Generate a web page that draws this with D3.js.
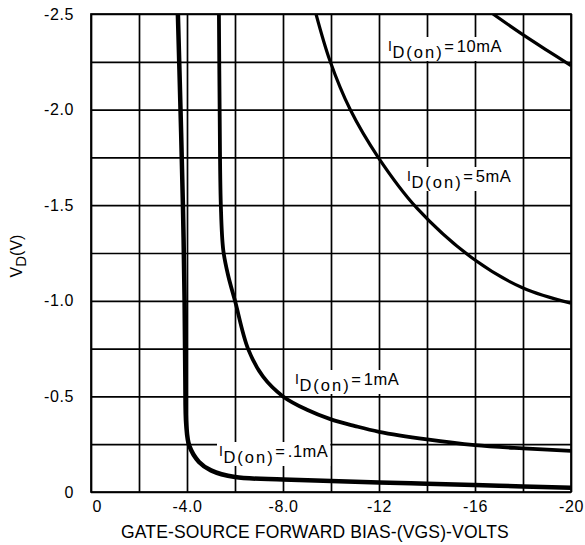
<!DOCTYPE html>
<html>
<head>
<meta charset="utf-8">
<script src="https://cdn.jsdelivr.net/npm/d3@7/dist/d3.min.js"></script>
<style>
  html, body { margin: 0; padding: 0; background: #fff; }
  svg { display: block; font-family: "Liberation Sans", Arial, Helvetica, sans-serif; }
</style>
</head>
<body>
<svg id="chart" width="585" height="545"></svg>
<script>
// Gate-source forward bias (V) vs drain voltage V_D (V), one curve per I_D(on)
const gridX = [0, -2, -4, -6, -8, -10, -12, -14, -16, -18, -20];
const gridY = [0, -0.25, -0.5, -0.75, -1.0, -1.25, -1.5, -1.75, -2.0, -2.25, -2.5];
const xTickValues = [0, -4, -8, -12, -16, -20];
const xTickLabels = ["0", "-4.0", "-8.0", "-12", "-16", "-20"];
const yTickValues = [0, -0.5, -1.0, -1.5, -2.0, -2.5];
const yTickLabels = ["0", "-0.5", "-1.0", "-1.5", "-2.0", "-2.5"];

// I_D(on) = .1mA
const vgs01 = [-3.62, -3.73, -3.83, -3.9, -3.93, -3.97, -4.1, -4.5, -5, -6, -8, -10, -12, -14, -16, -18, -20];
const vd01  = [-2.5, -2.0, -1.5, -1.0, -0.6, -0.35, -0.24, -0.157, -0.113, -0.078, -0.066, -0.058, -0.05, -0.043, -0.036, -0.029, -0.022];
// I_D(on) = 1mA
const vgs1 = [-5.33, -5.36, -5.41, -5.51, -5.71, -6.0, -6.54, -7.17, -8, -9, -10, -11, -12, -14, -16, -18, -20];
const vd1  = [-2.5, -2.0, -1.5, -1.266, -1.135, -1.0, -0.75, -0.603, -0.5, -0.43, -0.38, -0.345, -0.315, -0.275, -0.245, -0.228, -0.215];
// I_D(on) = 5mA
const vgs5 = [-9.375, -9.96, -10.79, -11.96, -13.58, -16, -18, -20];
const vd5  = [-2.5, -2.254, -2.003, -1.752, -1.485, -1.213, -1.067, -0.988];
// I_D(on) = 10mA
const vgs10 = [-16.75, -17.9, -19, -20];
const vd10  = [-2.5, -2.4, -2.31, -2.23];

const curveNames = [".1mA", "1mA", "5mA", "10mA"];

const svg = d3.select("#chart");
const x = d3.scaleLinear().domain([0, -20]).range([91, 571]);
const y = d3.scaleLinear().domain([0, -2.5]).range([492, 14]);
const [x0, x1] = x.range();
const [y0, y1] = y.range();

// grid lines drawn as axis ticks spanning the plot
const gx = svg.append("g").attr("transform", `translate(0,${y0})`)
  .call(d3.axisBottom(x).tickValues(gridX).tickSize(-(y0 - y1)).tickFormat(""));
const gy = svg.append("g").attr("transform", `translate(${x0},0)`)
  .call(d3.axisLeft(y).tickValues(gridY).tickSize(-(x1 - x0)).tickFormat(""));
[gx, gy].forEach(g => {
  g.select(".domain").remove();
  g.selectAll(".tick line").attr("stroke", "#000").attr("stroke-width", 1.7);
});

// frame
svg.append("rect").attr("x", x0).attr("y", y1).attr("width", x1 - x0).attr("height", y0 - y1)
  .attr("fill", "none").attr("stroke", "#000").attr("stroke-width", 1.7);

// tick labels
const lx = svg.append("g").attr("transform", `translate(0,${y0})`)
  .call(d3.axisBottom(x).tickValues(xTickValues).tickSize(0).tickPadding(9)
    .tickFormat((d, i) => xTickLabels[i]));
const ly = svg.append("g").attr("transform", `translate(${x0},0)`)
  .call(d3.axisLeft(y).tickValues(yTickValues).tickSize(0).tickPadding(17)
    .tickFormat((d, i) => yTickLabels[i]));
[lx, ly].forEach(g => {
  g.select(".domain").remove();
  g.selectAll("text").attr("font-family", "Liberation Sans, Arial, sans-serif")
    .attr("font-size", 16).attr("fill", "#000").attr("letter-spacing", 0.6);
});
lx.selectAll(".tick text").filter(d => d === 0).attr("text-anchor", "start").attr("dx", 1);
lx.selectAll(".tick text").attr("dy", "0.71em");

// axis titles
svg.append("text").attr("x", 315).attr("y", 538).attr("text-anchor", "middle")
  .attr("font-size", 17.5).attr("fill", "#000").attr("letter-spacing", 0.15)
  .text("GATE-SOURCE FORWARD BIAS-(VGS)-VOLTS");

const yt = svg.append("text").attr("transform", "translate(22,256) rotate(-90)")
  .attr("text-anchor", "middle").attr("font-size", 16).attr("fill", "#000");
yt.append("tspan").text("V");
yt.append("tspan").attr("dy", 4).attr("font-size", 15).text("D");
yt.append("tspan").attr("dy", -4).text("(V)");

// curve labels with white backing boxes
const labels = [
  { name: curveNames[3], lx: 388, ly: 52 },
  { name: curveNames[2], lx: 407, ly: 182 },
  { name: curveNames[1], lx: 295, ly: 385 },
  { name: curveNames[0], lx: 219, ly: 457 }
];
const labelLayer = svg.append("g");
labels.forEach(l => {
  const g = labelLayer.append("g");
  const t = g.append("text").attr("x", l.lx).attr("y", l.ly)
    .attr("font-size", 16.5).attr("fill", "#000");
  t.append("tspan").attr("font-size", 14).attr("dy", -1).text("I");
  t.append("tspan").attr("dy", 7).attr("dx", 0.5).attr("letter-spacing", 2).text("D(on)");
  t.append("tspan").attr("dy", -6).attr("dx", 0.5).text("=");
  t.append("tspan").attr("dx", 3).attr("letter-spacing", 0.5).text(l.name);
  const b = t.node().getBBox();
  g.insert("rect", "text").attr("x", b.x - 2).attr("y", b.y).attr("width", b.width + 4)
    .attr("height", b.height).attr("fill", "#fff");
});

// curves
svg.append("clipPath").attr("id", "plot-clip").append("rect")
  .attr("x", x0).attr("y", y1).attr("width", x1 - x0).attr("height", y0 - y1);
const line = d3.line().x(d => x(d[0])).y(d => y(d[1])).curve(d3.curveCatmullRom.alpha(0.5));
const series = [
  { xs: vgs01, ys: vd01, w: 4.5 },
  { xs: vgs1, ys: vd1, w: 3.8 },
  { xs: vgs5, ys: vd5, w: 3.2 },
  { xs: vgs10, ys: vd10, w: 3.2 }
];
const curves = svg.append("g").attr("clip-path", "url(#plot-clip)");
series.forEach(s => {
  curves.append("path").datum(s.xs.map((v, i) => [v, s.ys[i]]))
    .attr("d", line).attr("fill", "none").attr("stroke", "#000")
    .attr("stroke-width", s.w).attr("stroke-linejoin", "round");
});
// keep label text above everything
labelLayer.raise();
</script>
</body>
</html>
